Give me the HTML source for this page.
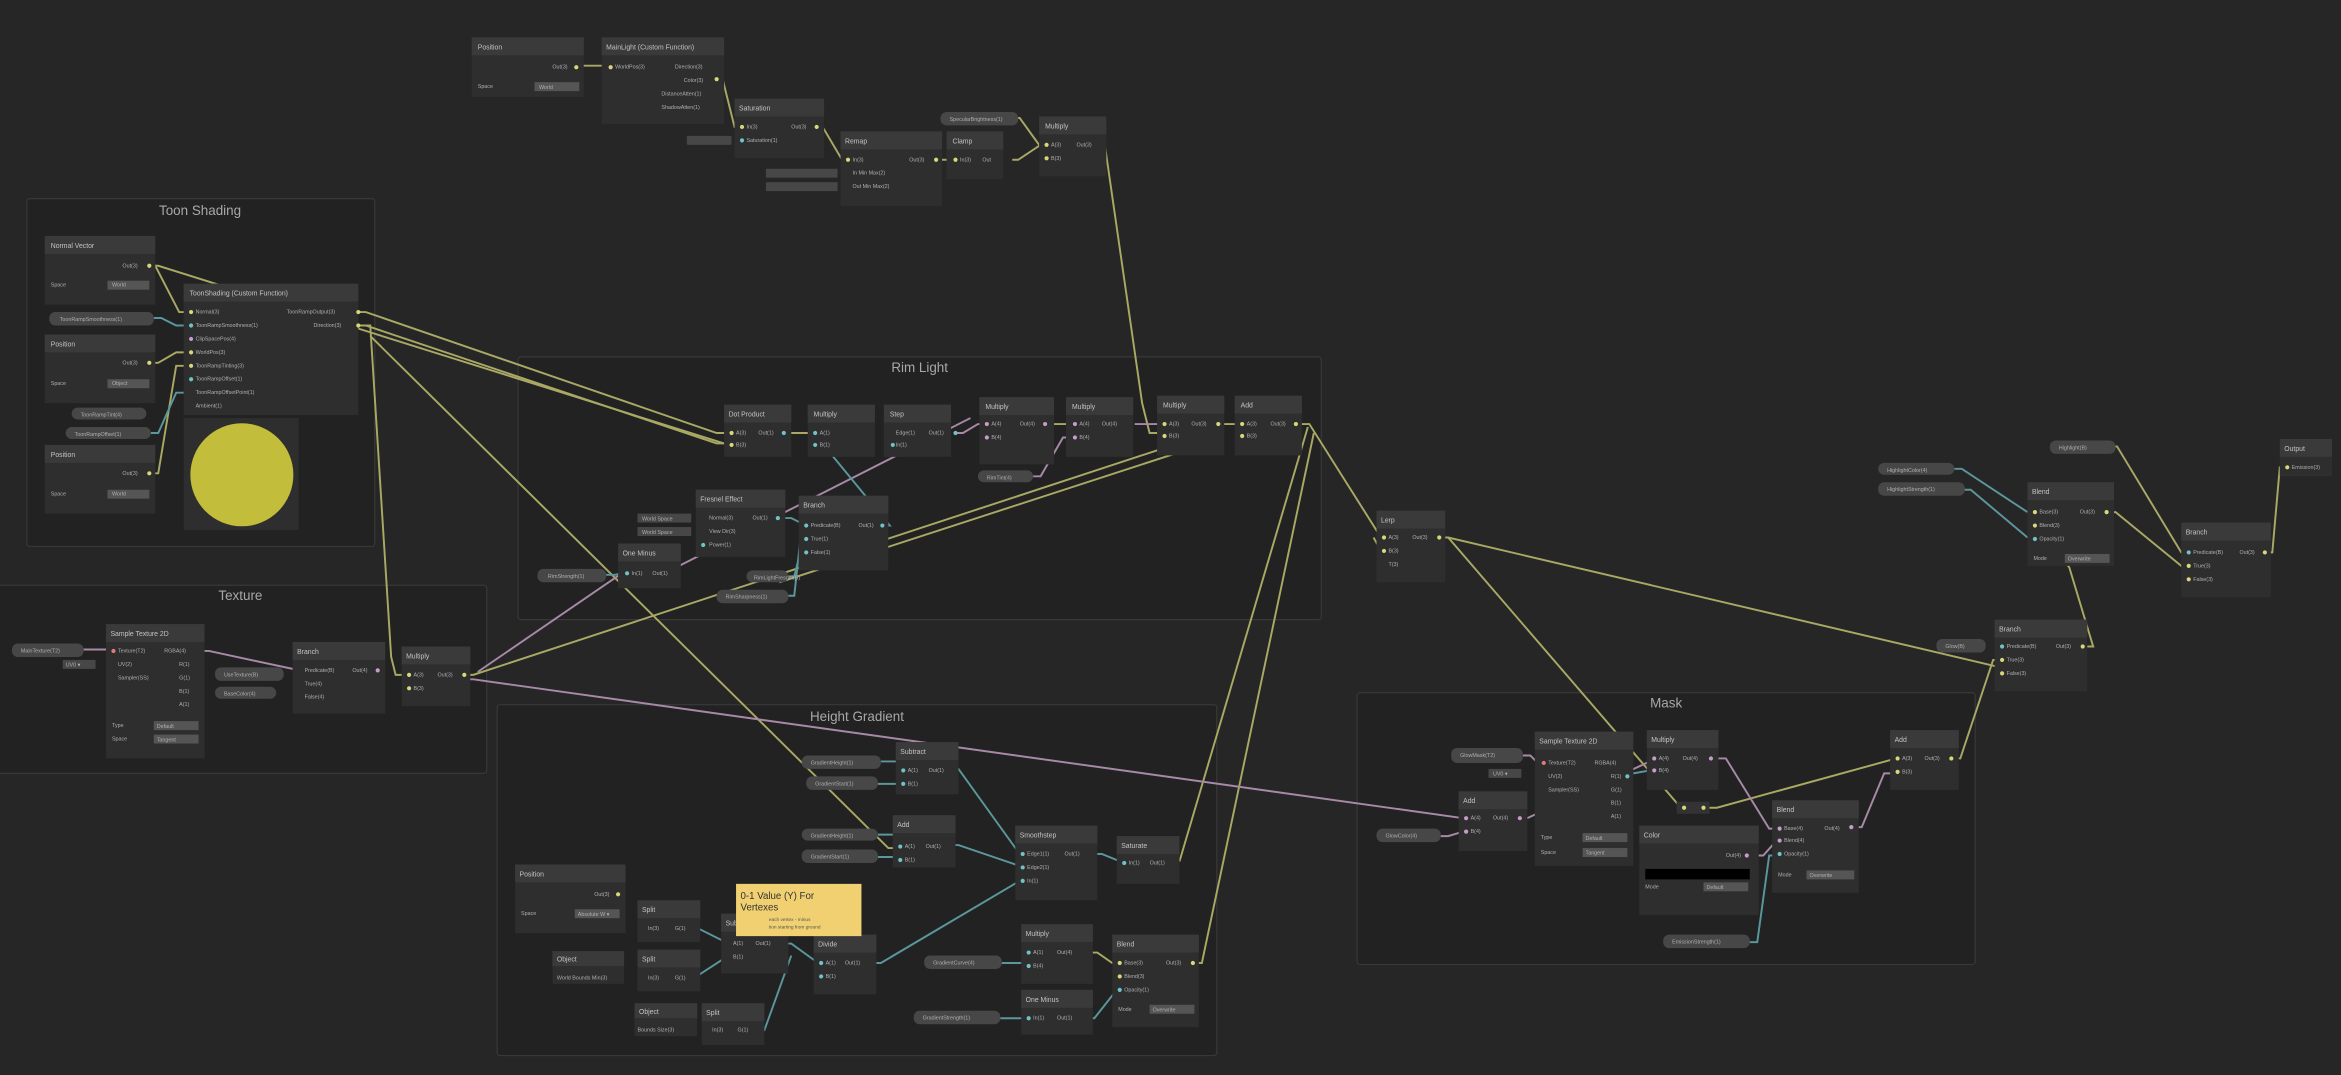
<!DOCTYPE html>
<html><head><meta charset="utf-8"><style>
html,body{margin:0;padding:0;background:#262626;overflow:hidden}
svg{display:block}
text{font-family:"Liberation Sans",sans-serif;fill:#c4c4c4}
.t{font-size:4.6px}
.p{font-size:3.6px;fill:#b0b0b0}
.g{font-size:9px;fill:#a8a8a8;text-anchor:middle}
.nb{fill:#2e2e2e}
.nh{fill:#3a3a3a}
.pill{fill:#474747}
.grp{fill:#222;stroke:#383838;stroke-width:0.8}
.wy{stroke:#a9a864;stroke-width:1.3;fill:none}
.wp{stroke:#a889a8;stroke-width:1.3;fill:none}
.wc{stroke:#5a979c;stroke-width:1.3;fill:none}
.y{fill:#d8d87a}.k{fill:#c99bc9}.c{fill:#6fc2c6}.r{fill:#e07a7a}
</style></head><body>
<svg width="2341" height="1075" viewBox="0 0 1568 720" xmlns="http://www.w3.org/2000/svg">
<rect width="1568" height="720" fill="#262626"/>
<!-- groups -->
<rect class="grp" x="18" y="133" width="233" height="233" rx="2"/><text class="g" x="134" y="144">Toon Shading</text>
<rect class="grp" x="347" y="239" width="538" height="176" rx="2"/><text class="g" x="616" y="249">Rim Light</text>
<rect class="grp" x="-2" y="392" width="328" height="126" rx="2"/><text class="g" x="161" y="402">Texture</text>
<rect class="grp" x="333" y="472" width="482" height="235" rx="2"/><text class="g" x="574" y="483">Height Gradient</text>
<rect class="grp" x="909" y="464" width="414" height="182" rx="2"/><text class="g" x="1116" y="474">Mask</text>

<!-- wires yellow -->
<g class="wy">
<path d="M385 44 H409"/>
<path d="M480 53 h4 L492 85 h4"/>
<path d="M547 85 h4 L564 107 h4"/>
<path d="M627 107 H640"/>
<path d="M678 107 h4 L697 97 h4"/>
<path d="M677 79 h6 L696 97 h5"/>
<path d="M736 97 h4 L765 270 L770 290 h10"/>
<path d="M100 178 h4 L120 209 h8"/>
<path d="M100 178 h6 L485 297"/>
<path d="M240 209 h5 L480 290 h5"/>
<path d="M240 218 h5 L480 297 h5"/>
<path d="M240 218 h8 L262 440 L265 452 h5"/>
<path d="M248 225 L595 568 h5"/>
<path d="M100 243 h6 L118 236 h10"/>
<path d="M100 317 h6 L118 245 h10"/>
<path d="M525 290 H546"/>
<path d="M700 284 H720"/>
<path d="M816 284 H832"/>
<path d="M871 284 h6 L925 360"/>
<path d="M876 286 L790 577"/>
<path d="M880 290 L805 645 h-5"/>
<path d="M312 452 h5 L780 300"/>
<path d="M965 360 h5 L1340 447"/>
<path d="M965 360 h5 L1125 540"/>
<path d="M1145 541 h5 L1270 508"/>
<path d="M1308 508 h5 L1335 442 h5"/>
<path d="M1398 433 h4 L1386 380 L1360 346 h3"/>
<path d="M1412 343 h5 L1461 379 h5"/>
<path d="M1413 299 h5 L1461 370 h5"/>
<path d="M1517 370 h5 L1527 313 h5"/>
<path d="M730 638 h5 L745 645 h5"/>
<path d="M522 390 L805 298"/>
<path d="M920 360 L925 369"/>
</g>
<!-- pink -->
<g class="wp">
<path d="M312 455 h5 L980 548"/>
<path d="M320 450 L415 385"/>
<path d="M135 436 h5 L196 448"/>
<path d="M640 290 h5 L655 284 h5"/>
<path d="M692 319 h5 L712 293 h6"/>
<path d="M760 284 H780"/>
<path d="M1151 508 h5 L1185 555 h5"/>
<path d="M1020 506 h5 L1030 511"/>
<path d="M965 560 h5 L980 557"/>
<path d="M1023 548 L1105 510"/>
<path d="M1242 554 h5 L1262 518 h6"/>
<path d="M1176 573 h5 L1190 563"/>
<path d="M445 384 L650 280"/>
<path d="M56 435 H75"/>
</g>
<!-- cyan -->
<g class="wc">
<path d="M103 213 h5 L118 218 h10"/>
<path d="M101 290 h5 L118 263 h10"/>
<path d="M525 347 h5 L540 352"/>
<path d="M592 352 h4 L550 296"/>
<path d="M406 385 h6 L420 383"/>
<path d="M528 386 h4 L536 370"/>
<path d="M528 399 h4 L536 362"/>
<path d="M637 515 h5 L683 572"/>
<path d="M637 566 h5 L683 580"/>
<path d="M733 572 h5 L753 578"/>
<path d="M463 622 h5 L488 632"/>
<path d="M460 655 h5 L488 640"/>
<path d="M507 690 h5 L530 640"/>
<path d="M525 632 h5 L548 645"/>
<path d="M585 645 h5 L683 590"/>
<path d="M1172 631 h5 L1185 573 h5"/>
<path d="M1315 328 h5 L1358 360"/>
<path d="M1309 314 h5 L1358 343"/>
<path d="M590 510 H605"/>
<path d="M588 525 H605"/>
<path d="M588 559 H602"/>
<path d="M588 574 H602"/>
<path d="M671 645 H688"/>
<path d="M670 682 H688"/>
<path d="M728 682 h5 L748 663"/>
<path d="M1094 518 L1105 516"/>
</g>

<!-- Position top -->
<g><rect class="nb" x="316" y="25" width="75" height="40"/><rect class="nh" x="316" y="25" width="75" height="12"/><text class="t" x="320" y="33">Position</text>
<text class="p" x="370" y="46">Out(3)</text><circle class="y" cx="386" cy="45" r="1.4"/>
<text class="p" x="320" y="59">Space</text><rect x="358" y="55" width="30" height="6" fill="#555"/><text class="p" x="361" y="59.5">World</text></g>
<g><rect class="nb" x="403" y="25" width="82" height="58"/><rect class="nh" x="403" y="25" width="82" height="12"/><text class="t" x="406" y="33">MainLight (Custom Function)</text>
<circle class="y" cx="409" cy="45" r="1.4"/><text class="p" x="412" y="46">WorldPos(3)</text>
<text class="p" x="452" y="46">Direction(3)</text><text class="p" x="458" y="55">Color(3)</text><text class="p" x="443" y="64">DistanceAtten(1)</text><text class="p" x="443" y="73">ShadowAtten(1)</text>
<circle class="y" cx="480" cy="53" r="1.4"/></g>
<g><rect class="nb" x="492" y="66" width="60" height="40"/><rect class="nh" x="492" y="66" width="60" height="12"/><text class="t" x="495" y="74">Saturation</text>
<circle class="y" cx="497" cy="85" r="1.4"/><text class="p" x="500" y="86">In(3)</text><circle class="c" cx="497" cy="94" r="1.4"/><text class="p" x="500" y="95">Saturation(1)</text><text class="p" x="530" y="86">Out(3)</text><circle class="y" cx="547" cy="85" r="1.4"/></g>
<rect class="pill" x="460" y="91" width="30" height="6" rx="1"/>
<g><rect class="nb" x="563" y="88" width="68" height="50"/><rect class="nh" x="563" y="88" width="68" height="12"/><text class="t" x="566" y="96">Remap</text>
<circle class="y" cx="568" cy="107" r="1.4"/><text class="p" x="571" y="108">In(3)</text><text class="p" x="571" y="117">In Min Max(2)</text><text class="p" x="571" y="126">Out Min Max(2)</text><text class="p" x="609" y="108">Out(3)</text><circle class="y" cx="627" cy="107" r="1.4"/></g>
<rect class="pill" x="513" y="113" width="48" height="6"/><rect class="pill" x="513" y="122" width="48" height="6"/>
<g><rect class="nb" x="634" y="88" width="38" height="32"/><rect class="nh" x="634" y="88" width="38" height="12"/><text class="t" x="638" y="96">Clamp</text><circle class="y" cx="640" cy="107" r="1.4"/><text class="p" x="643" y="108">In(3)</text><text class="p" x="658" y="108">Out</text></g>
<g><rect class="pill" x="630" y="75" width="52" height="9" rx="4"/><text class="p" x="636" y="81">SpecularBrightness(1)</text></g>
<g><rect class="nb" x="696" y="78" width="45" height="40"/><rect class="nh" x="696" y="78" width="45" height="12"/><text class="t" x="700" y="86">Multiply</text><circle class="y" cx="701" cy="97" r="1.4"/><text class="p" x="704" y="98">A(3)</text><circle class="y" cx="701" cy="106" r="1.4"/><text class="p" x="704" y="107">B(3)</text><text class="p" x="721" y="98">Out(3)</text></g>

<!-- Toon shading group -->
<g><rect class="nb" x="30" y="158" width="74" height="46"/><rect class="nh" x="30" y="158" width="74" height="12"/><text class="t" x="34" y="166">Normal Vector</text><text class="p" x="82" y="179">Out(3)</text><circle class="y" cx="100" cy="178" r="1.4"/><text class="p" x="34" y="192">Space</text><rect x="72" y="188" width="28" height="6" fill="#555"/><text class="p" x="75" y="192">World</text></g>
<g><rect class="nb" x="30" y="224" width="74" height="46"/><rect class="nh" x="30" y="224" width="74" height="12"/><text class="t" x="34" y="232">Position</text><text class="p" x="82" y="244">Out(3)</text><circle class="y" cx="100" cy="243" r="1.4"/><text class="p" x="34" y="258">Space</text><rect x="72" y="254" width="28" height="6" fill="#555"/><text class="p" x="75" y="258">Object</text></g>
<g><rect class="nb" x="30" y="298" width="74" height="46"/><rect class="nh" x="30" y="298" width="74" height="12"/><text class="t" x="34" y="306">Position</text><text class="p" x="82" y="318">Out(3)</text><circle class="y" cx="100" cy="317" r="1.4"/><text class="p" x="34" y="332">Space</text><rect x="72" y="328" width="28" height="6" fill="#555"/><text class="p" x="75" y="332">World</text></g>
<g><rect class="pill" x="33" y="209" width="70" height="9" rx="4"/><text class="p" x="40" y="215">ToonRampSmoothness(1)</text></g>
<g><rect class="pill" x="48" y="273" width="50" height="8" rx="4"/><text class="p" x="54" y="279">ToonRampTint(4)</text></g>
<g><rect class="pill" x="44" y="286" width="57" height="8" rx="4"/><text class="p" x="50" y="292">ToonRampOffset(1)</text></g>
<g><rect class="nb" x="123" y="190" width="117" height="88"/><rect class="nh" x="123" y="190" width="117" height="12"/><text class="t" x="127" y="198">ToonShading (Custom Function)</text>
<circle class="y" cx="128" cy="209" r="1.4"/><text class="p" x="131" y="210">Normal(3)</text>
<circle class="c" cx="128" cy="218" r="1.4"/><text class="p" x="131" y="219">ToonRampSmoothness(1)</text>
<circle class="k" cx="128" cy="227" r="1.4"/><text class="p" x="131" y="228">ClipSpacePos(4)</text>
<circle class="y" cx="128" cy="236" r="1.4"/><text class="p" x="131" y="237">WorldPos(3)</text>
<circle class="y" cx="128" cy="245" r="1.4"/><text class="p" x="131" y="246">ToonRampTinting(3)</text>
<circle class="c" cx="128" cy="254" r="1.4"/><text class="p" x="131" y="255">ToonRampOffset(1)</text>
<text class="p" x="131" y="264">ToonRampOffsetPoint(1)</text><text class="p" x="131" y="273">Ambient(1)</text>
<text class="p" x="192" y="210">ToonRampOutput(3)</text><circle class="y" cx="240" cy="209" r="1.4"/><text class="p" x="210" y="219">Direction(3)</text><circle class="y" cx="240" cy="218" r="1.4"/></g>
<rect x="123" y="280" width="77" height="75" fill="#2e2e2e"/><circle cx="162" cy="318" r="34.5" fill="#c2bd3a"/>

<!-- Rim light -->
<g><rect class="nb" x="485" y="271" width="45" height="35"/><rect class="nh" x="485" y="271" width="45" height="12"/><text class="t" x="488" y="279">Dot Product</text><circle class="y" cx="490" cy="290" r="1.4"/><text class="p" x="493" y="291">A(3)</text><circle class="y" cx="490" cy="298" r="1.4"/><text class="p" x="493" y="299">B(3)</text><text class="p" x="508" y="291">Out(1)</text><circle class="c" cx="525" cy="290" r="1.4"/></g>
<g><rect class="nb" x="541" y="271" width="45" height="35"/><rect class="nh" x="541" y="271" width="45" height="12"/><text class="t" x="545" y="279">Multiply</text><circle class="c" cx="546" cy="290" r="1.4"/><text class="p" x="549" y="291">A(1)</text><circle class="c" cx="546" cy="298" r="1.4"/><text class="p" x="549" y="299">B(1)</text></g>
<g><rect class="nb" x="592" y="271" width="45" height="35"/><rect class="nh" x="592" y="271" width="45" height="12"/><text class="t" x="596" y="279">Step</text><text class="p" x="600" y="291">Edge(1)</text><circle class="c" cx="598" cy="298" r="1.4"/><text class="p" x="600" y="299">In(1)</text><text class="p" x="622" y="291">Out(1)</text><circle class="c" cx="640" cy="290" r="1.4"/></g>
<g><rect class="nb" x="656" y="266" width="50" height="45"/><rect class="nh" x="656" y="266" width="50" height="12"/><text class="t" x="660" y="274">Multiply</text><circle class="k" cx="661" cy="284" r="1.4"/><text class="p" x="664" y="285">A(4)</text><circle class="k" cx="661" cy="293" r="1.4"/><text class="p" x="664" y="294">B(4)</text><text class="p" x="683" y="285">Out(4)</text><circle class="k" cx="700" cy="284" r="1.4"/></g>
<g><rect class="nb" x="714" y="266" width="45" height="40"/><rect class="nh" x="714" y="266" width="45" height="12"/><text class="t" x="718" y="274">Multiply</text><circle class="k" cx="720" cy="284" r="1.4"/><text class="p" x="723" y="285">A(4)</text><circle class="k" cx="720" cy="293" r="1.4"/><text class="p" x="723" y="294">B(4)</text><text class="p" x="738" y="285">Out(4)</text></g>
<g><rect class="nb" x="775" y="265" width="45" height="40"/><rect class="nh" x="775" y="265" width="45" height="12"/><text class="t" x="779" y="273">Multiply</text><circle class="y" cx="780" cy="284" r="1.4"/><text class="p" x="783" y="285">A(3)</text><circle class="y" cx="780" cy="292" r="1.4"/><text class="p" x="783" y="293">B(3)</text><text class="p" x="798" y="285">Out(3)</text><circle class="y" cx="816" cy="284" r="1.4"/></g>
<g><rect class="nb" x="827" y="265" width="45" height="40"/><rect class="nh" x="827" y="265" width="45" height="12"/><text class="t" x="831" y="273">Add</text><circle class="y" cx="832" cy="284" r="1.4"/><text class="p" x="835" y="285">A(3)</text><circle class="y" cx="832" cy="292" r="1.4"/><text class="p" x="835" y="293">B(3)</text><text class="p" x="851" y="285">Out(3)</text><circle class="y" cx="868" cy="284" r="1.4"/></g>
<g><rect class="pill" x="655" y="315" width="37" height="8" rx="4"/><text class="p" x="661" y="321">RimTint(4)</text></g>
<g><rect class="nb" x="466" y="328" width="60" height="45"/><rect class="nh" x="466" y="328" width="60" height="12"/><text class="t" x="469" y="336">Fresnel Effect</text><text class="p" x="475" y="348">Normal(3)</text><text class="p" x="475" y="357">View Dir(3)</text><circle class="c" cx="471" cy="365" r="1.4"/><text class="p" x="475" y="366">Power(1)</text><text class="p" x="504" y="348">Out(1)</text><circle class="c" cx="521" cy="347" r="1.4"/></g>
<rect class="pill" x="427" y="344" width="36" height="6"/><text class="p" x="430" y="348.5">World Space</text><rect class="pill" x="427" y="353" width="36" height="6"/><text class="p" x="430" y="357.5">World Space</text>
<g><rect class="nb" x="535" y="332" width="60" height="50"/><rect class="nh" x="535" y="332" width="60" height="12"/><text class="t" x="538" y="340">Branch</text><circle class="c" cx="540" cy="352" r="1.4"/><text class="p" x="543" y="353">Predicate(B)</text><circle class="c" cx="540" cy="361" r="1.4"/><text class="p" x="543" y="362">True(1)</text><circle class="c" cx="540" cy="370" r="1.4"/><text class="p" x="543" y="371">False(1)</text><text class="p" x="575" y="353">Out(1)</text><circle class="c" cx="591" cy="352" r="1.4"/></g>
<g><rect class="nb" x="414" y="364" width="42" height="30"/><rect class="nh" x="414" y="364" width="42" height="12"/><text class="t" x="417" y="372">One Minus</text><circle class="c" cx="420" cy="384" r="1.4"/><text class="p" x="423" y="385">In(1)</text><text class="p" x="437" y="385">Out(1)</text></g>
<g><rect class="pill" x="360" y="381" width="46" height="9" rx="4"/><text class="p" x="367" y="387">RimStrength(1)</text></g>
<g><rect class="pill" x="500" y="382" width="28" height="8" rx="4"/><text class="p" x="505" y="388">RimLightFresnel(B)</text></g>
<g><rect class="pill" x="480" y="395" width="48" height="9" rx="4"/><text class="p" x="486" y="401">RimSharpness(1)</text></g>

<!-- Texture -->
<g><rect class="pill" x="8" y="431" width="48" height="9" rx="4"/><text class="p" x="14" y="437">MainTexture(T2)</text></g>
<rect class="pill" x="42" y="442" width="22" height="6"/><text class="p" x="44" y="446.5">UV0 ▾</text>
<g><rect class="nb" x="71" y="418" width="66" height="90"/><rect class="nh" x="71" y="418" width="66" height="12"/><text class="t" x="74" y="426">Sample Texture 2D</text><circle class="r" cx="76" cy="436" r="1.4"/><text class="p" x="79" y="437">Texture(T2)</text><text class="p" x="79" y="446">UV(2)</text><text class="p" x="79" y="455">Sampler(SS)</text>
<text class="p" x="110" y="437">RGBA(4)</text><text class="p" x="120" y="446">R(1)</text><text class="p" x="120" y="455">G(1)</text><text class="p" x="120" y="464">B(1)</text><text class="p" x="120" y="473">A(1)</text>
<text class="p" x="75" y="487">Type</text><rect x="103" y="483" width="30" height="6" fill="#555"/><text class="p" x="105" y="487.5">Default</text><text class="p" x="75" y="496">Space</text><rect x="103" y="492" width="30" height="6" fill="#555"/><text class="p" x="105" y="496.5">Tangent</text></g>
<g><rect class="pill" x="144" y="447" width="46" height="9" rx="4"/><text class="p" x="150" y="453">UseTexture(B)</text></g>
<g><rect class="pill" x="144" y="460" width="41" height="8" rx="4"/><text class="p" x="150" y="466">BaseColor(4)</text></g>
<g><rect class="nb" x="196" y="430" width="62" height="48"/><rect class="nh" x="196" y="430" width="62" height="12"/><text class="t" x="199" y="438">Branch</text><text class="p" x="204" y="450">Predicate(B)</text><text class="p" x="204" y="459">True(4)</text><text class="p" x="204" y="468">False(4)</text><text class="p" x="236" y="450">Out(4)</text><circle class="k" cx="253" cy="449" r="1.4"/></g>
<g><rect class="nb" x="269" y="433" width="46" height="40"/><rect class="nh" x="269" y="433" width="46" height="12"/><text class="t" x="272" y="441">Multiply</text><circle class="y" cx="274" cy="452" r="1.4"/><text class="p" x="277" y="453">A(3)</text><circle class="y" cx="274" cy="461" r="1.4"/><text class="p" x="277" y="462">B(3)</text><text class="p" x="293" y="453">Out(3)</text><circle class="y" cx="311" cy="452" r="1.4"/></g>

<!-- Right side -->
<g><rect class="nb" x="922" y="342" width="46" height="48"/><rect class="nh" x="922" y="342" width="46" height="12"/><text class="t" x="925" y="350">Lerp</text><circle class="y" cx="927" cy="360" r="1.4"/><text class="p" x="930" y="361">A(3)</text><circle class="y" cx="927" cy="369" r="1.4"/><text class="p" x="930" y="370">B(3)</text><text class="p" x="930" y="379">T(3)</text><text class="p" x="946" y="361">Out(3)</text><circle class="y" cx="964" cy="360" r="1.4"/></g>
<g><rect class="pill" x="1258" y="310" width="51" height="8" rx="4"/><text class="p" x="1264" y="316">HighlightColor(4)</text></g>
<g><rect class="pill" x="1258" y="323" width="58" height="9" rx="4"/><text class="p" x="1264" y="329">HighlightStrength(1)</text></g>
<g><rect class="pill" x="1373" y="295" width="44" height="9" rx="4"/><text class="p" x="1379" y="301">Highlight(B)</text></g>
<g><rect class="nb" x="1358" y="323" width="58" height="56"/><rect class="nh" x="1358" y="323" width="58" height="12"/><text class="t" x="1361" y="331">Blend</text><circle class="y" cx="1363" cy="343" r="1.4"/><text class="p" x="1366" y="344">Base(3)</text><circle class="y" cx="1363" cy="352" r="1.4"/><text class="p" x="1366" y="353">Blend(3)</text><circle class="c" cx="1363" cy="361" r="1.4"/><text class="p" x="1366" y="362">Opacity(1)</text><text class="p" x="1393" y="344">Out(3)</text><circle class="y" cx="1411" cy="343" r="1.4"/><text class="p" x="1362" y="375">Mode</text><rect x="1383" y="371" width="30" height="6" fill="#555"/><text class="p" x="1385" y="375.5">Overwrite</text></g>
<g><rect class="nb" x="1461" y="350" width="60" height="50"/><rect class="nh" x="1461" y="350" width="60" height="12"/><text class="t" x="1464" y="358">Branch</text><circle class="c" cx="1466" cy="370" r="1.4"/><text class="p" x="1469" y="371">Predicate(B)</text><circle class="y" cx="1466" cy="379" r="1.4"/><text class="p" x="1469" y="380">True(3)</text><circle class="y" cx="1466" cy="388" r="1.4"/><text class="p" x="1469" y="389">False(3)</text><text class="p" x="1500" y="371">Out(3)</text><circle class="y" cx="1517" cy="370" r="1.4"/></g>
<g><rect class="nb" x="1527" y="294" width="35" height="25"/><rect class="nh" x="1527" y="294" width="35" height="12"/><text class="t" x="1530" y="302">Output</text><circle class="y" cx="1532" cy="313" r="1.4"/><text class="p" x="1535" y="314">Emission(3)</text></g>
<g><rect class="nb" x="1336" y="415" width="62" height="48"/><rect class="nh" x="1336" y="415" width="62" height="12"/><text class="t" x="1339" y="423">Branch</text><circle class="c" cx="1341" cy="433" r="1.4"/><text class="p" x="1344" y="434">Predicate(B)</text><circle class="y" cx="1341" cy="442" r="1.4"/><text class="p" x="1344" y="443">True(3)</text><circle class="y" cx="1341" cy="451" r="1.4"/><text class="p" x="1344" y="452">False(3)</text><text class="p" x="1377" y="434">Out(3)</text><circle class="y" cx="1395" cy="433" r="1.4"/></g>
<g><rect class="pill" x="1297" y="428" width="33" height="9" rx="4"/><text class="p" x="1303" y="434">Glow(B)</text></g>

<!-- Mask -->
<g><rect class="pill" x="972" y="501" width="48" height="10" rx="4"/><text class="p" x="978" y="507">GlowMask(T2)</text></g>
<rect class="pill" x="997" y="515" width="22" height="6"/><text class="p" x="1000" y="519.5">UV0 ▾</text>
<g><rect class="nb" x="1028" y="490" width="66" height="90"/><rect class="nh" x="1028" y="490" width="66" height="12"/><text class="t" x="1031" y="498">Sample Texture 2D</text><circle class="r" cx="1034" cy="511" r="1.4"/><text class="p" x="1037" y="512">Texture(T2)</text><text class="p" x="1037" y="521">UV(2)</text><text class="p" x="1037" y="530">Sampler(SS)</text><text class="p" x="1068" y="512">RGBA(4)</text><text class="p" x="1079" y="521">R(1)</text><circle class="c" cx="1090" cy="520" r="1.4"/><text class="p" x="1079" y="530">G(1)</text><text class="p" x="1079" y="539">B(1)</text><text class="p" x="1079" y="548">A(1)</text>
<text class="p" x="1032" y="562">Type</text><rect x="1060" y="558" width="30" height="6" fill="#555"/><text class="p" x="1062" y="562.5">Default</text><text class="p" x="1032" y="572">Space</text><rect x="1060" y="568" width="30" height="6" fill="#555"/><text class="p" x="1062" y="572.5">Tangent</text></g>
<g><rect class="nb" x="1103" y="489" width="48" height="40"/><rect class="nh" x="1103" y="489" width="48" height="12"/><text class="t" x="1106" y="497">Multiply</text><circle class="k" cx="1108" cy="508" r="1.4"/><text class="p" x="1111" y="509">A(4)</text><circle class="k" cx="1108" cy="516" r="1.4"/><text class="p" x="1111" y="517">B(4)</text><text class="p" x="1127" y="509">Out(4)</text><circle class="k" cx="1146" cy="508" r="1.4"/></g>
<g><rect class="nb" x="977" y="530" width="46" height="40"/><rect class="nh" x="977" y="530" width="46" height="12"/><text class="t" x="980" y="538">Add</text><circle class="k" cx="982" cy="548" r="1.4"/><text class="p" x="985" y="549">A(4)</text><circle class="k" cx="982" cy="557" r="1.4"/><text class="p" x="985" y="558">B(4)</text><text class="p" x="1000" y="549">Out(4)</text><circle class="k" cx="1018" cy="548" r="1.4"/></g>
<g><rect class="pill" x="922" y="555" width="43" height="9" rx="4"/><text class="p" x="928" y="561">GlowColor(4)</text></g>
<rect x="1123" y="537" width="22" height="8" fill="#333"/><circle class="y" cx="1128" cy="541" r="1.4"/><circle class="y" cx="1141" cy="541" r="1.4"/>
<g><rect class="nb" x="1098" y="553" width="80" height="60"/><rect class="nh" x="1098" y="553" width="80" height="12"/><text class="t" x="1101" y="561">Color</text><text class="p" x="1156" y="574">Out(4)</text><circle class="k" cx="1170" cy="573" r="1.4"/><rect x="1102" y="582" width="70" height="7" fill="#000"/><text class="p" x="1102" y="595">Mode</text><rect x="1141" y="591" width="30" height="6" fill="#555"/><text class="p" x="1143" y="595.5">Default</text></g>
<g><rect class="nb" x="1187" y="536" width="58" height="62"/><rect class="nh" x="1187" y="536" width="58" height="12"/><text class="t" x="1190" y="544">Blend</text><circle class="k" cx="1192" cy="555" r="1.4"/><text class="p" x="1195" y="556">Base(4)</text><circle class="k" cx="1192" cy="563" r="1.4"/><text class="p" x="1195" y="564">Blend(4)</text><circle class="c" cx="1192" cy="572" r="1.4"/><text class="p" x="1195" y="573">Opacity(1)</text><text class="p" x="1222" y="556">Out(4)</text><circle class="k" cx="1240" cy="554" r="1.4"/><text class="p" x="1191" y="587">Mode</text><rect x="1210" y="583" width="32" height="6" fill="#555"/><text class="p" x="1212" y="587.5">Overwrite</text></g>
<g><rect class="nb" x="1266" y="489" width="46" height="40"/><rect class="nh" x="1266" y="489" width="46" height="12"/><text class="t" x="1269" y="497">Add</text><circle class="y" cx="1271" cy="508" r="1.4"/><text class="p" x="1274" y="509">A(3)</text><circle class="y" cx="1271" cy="517" r="1.4"/><text class="p" x="1274" y="518">B(3)</text><text class="p" x="1289" y="509">Out(3)</text><circle class="y" cx="1307" cy="508" r="1.4"/></g>
<g><rect class="pill" x="1114" y="626" width="58" height="9" rx="4"/><text class="p" x="1120" y="632">EmissionStrength(1)</text></g>

<!-- Height gradient -->
<g><rect class="pill" x="537" y="506" width="53" height="9" rx="4"/><text class="p" x="543" y="512">GradientHeight(1)</text></g>
<g><rect class="pill" x="540" y="520" width="48" height="9" rx="4"/><text class="p" x="546" y="526">GradientStart(1)</text></g>
<g><rect class="nb" x="600" y="497" width="42" height="35"/><rect class="nh" x="600" y="497" width="42" height="12"/><text class="t" x="603" y="505">Subtract</text><circle class="c" cx="605" cy="516" r="1.4"/><text class="p" x="608" y="517">A(1)</text><circle class="c" cx="605" cy="525" r="1.4"/><text class="p" x="608" y="526">B(1)</text><text class="p" x="622" y="517">Out(1)</text></g>
<g><rect class="pill" x="537" y="555" width="51" height="8" rx="4"/><text class="p" x="543" y="561">GradientHeight(1)</text></g>
<g><rect class="pill" x="537" y="569" width="51" height="9" rx="4"/><text class="p" x="543" y="575">GradientStart(1)</text></g>
<g><rect class="nb" x="598" y="546" width="42" height="35"/><rect class="nh" x="598" y="546" width="42" height="12"/><text class="t" x="601" y="554">Add</text><circle class="c" cx="603" cy="567" r="1.4"/><text class="p" x="606" y="568">A(1)</text><circle class="c" cx="603" cy="576" r="1.4"/><text class="p" x="606" y="577">B(1)</text><text class="p" x="620" y="568">Out(1)</text></g>
<g><rect class="nb" x="680" y="553" width="55" height="50"/><rect class="nh" x="680" y="553" width="55" height="12"/><text class="t" x="683" y="561">Smoothstep</text><circle class="c" cx="685" cy="572" r="1.4"/><text class="p" x="688" y="573">Edge1(1)</text><circle class="c" cx="685" cy="581" r="1.4"/><text class="p" x="688" y="582">Edge2(1)</text><circle class="c" cx="685" cy="590" r="1.4"/><text class="p" x="688" y="591">In(1)</text><text class="p" x="713" y="573">Out(1)</text></g>
<g><rect class="nb" x="748" y="560" width="42" height="32"/><rect class="nh" x="748" y="560" width="42" height="12"/><text class="t" x="751" y="568">Saturate</text><circle class="c" cx="753" cy="578" r="1.4"/><text class="p" x="756" y="579">In(1)</text><text class="p" x="770" y="579">Out(1)</text></g>
<g><rect class="nb" x="345" y="579" width="74" height="46"/><rect class="nh" x="345" y="579" width="74" height="12"/><text class="t" x="348" y="587">Position</text><text class="p" x="398" y="600">Out(3)</text><circle class="y" cx="414" cy="599" r="1.4"/><text class="p" x="349" y="613">Space</text><rect x="385" y="609" width="30" height="6" fill="#555"/><text class="p" x="387" y="613.5">Absolute W ▾</text></g>
<g><rect class="nb" x="427" y="603" width="42" height="28"/><rect class="nh" x="427" y="603" width="42" height="12"/><text class="t" x="430" y="611">Split</text><text class="p" x="434" y="623">In(3)</text><text class="p" x="452" y="623">G(1)</text></g>
<g><rect class="nb" x="370" y="637" width="48" height="22"/><rect class="nh" x="370" y="637" width="48" height="10"/><text class="t" x="373" y="644">Object</text><text class="p" x="373" y="656">World Bounds Min(3)</text></g>
<g><rect class="nb" x="427" y="636" width="42" height="28"/><rect class="nh" x="427" y="636" width="42" height="12"/><text class="t" x="430" y="644">Split</text><text class="p" x="434" y="656">In(3)</text><text class="p" x="452" y="656">G(1)</text></g>
<g><rect class="nb" x="425" y="672" width="42" height="22"/><rect class="nh" x="425" y="672" width="42" height="10"/><text class="t" x="428" y="679">Object</text><text class="p" x="427" y="691">Bounds Size(3)</text></g>
<g><rect class="nb" x="470" y="672" width="42" height="28"/><rect class="nh" x="470" y="672" width="42" height="12"/><text class="t" x="473" y="680">Split</text><text class="p" x="477" y="691">In(3)</text><text class="p" x="494" y="691">G(1)</text></g>
<g><rect class="nb" x="483" y="612" width="45" height="40"/><rect class="nh" x="483" y="612" width="45" height="12"/><text class="t" x="486" y="620">Subtract</text><text class="p" x="491" y="633">A(1)</text><text class="p" x="491" y="642">B(1)</text><text class="p" x="506" y="633">Out(1)</text></g>
<g><rect class="nb" x="545" y="626" width="42" height="40"/><rect class="nh" x="545" y="626" width="42" height="12"/><text class="t" x="548" y="634">Divide</text><circle class="c" cx="550" cy="645" r="1.4"/><text class="p" x="553" y="646">A(1)</text><circle class="c" cx="550" cy="654" r="1.4"/><text class="p" x="553" y="655">B(1)</text><text class="p" x="566" y="646">Out(1)</text></g>
<g><rect x="493" y="592" width="84" height="35" fill="#f0d070"/><text x="496" y="602" style="font-size:6.5px;fill:#333">0-1 Value (Y) For</text><text x="496" y="610" style="font-size:6.5px;fill:#333">Vertexes</text><text x="515" y="617" style="font-size:3.2px;fill:#555">each vertex - minus</text><text x="515" y="622" style="font-size:3.2px;fill:#555">tion starting from ground</text></g>
<g><rect class="pill" x="619" y="640" width="52" height="9" rx="4"/><text class="p" x="625" y="646">GradientCurve(4)</text></g>
<g><rect class="pill" x="612" y="677" width="58" height="9" rx="4"/><text class="p" x="618" y="683">GradientStrength(1)</text></g>
<g><rect class="nb" x="684" y="619" width="48" height="40"/><rect class="nh" x="684" y="619" width="48" height="12"/><text class="t" x="687" y="627">Multiply</text><circle class="c" cx="689" cy="638" r="1.4"/><text class="p" x="692" y="639">A(1)</text><circle class="c" cx="689" cy="647" r="1.4"/><text class="p" x="692" y="648">B(4)</text><text class="p" x="708" y="639">Out(4)</text></g>
<g><rect class="nb" x="684" y="663" width="48" height="30"/><rect class="nh" x="684" y="663" width="48" height="12"/><text class="t" x="687" y="671">One Minus</text><circle class="c" cx="689" cy="682" r="1.4"/><text class="p" x="692" y="683">In(1)</text><text class="p" x="708" y="683">Out(1)</text></g>
<g><rect class="nb" x="745" y="626" width="58" height="62"/><rect class="nh" x="745" y="626" width="58" height="12"/><text class="t" x="748" y="634">Blend</text><circle class="y" cx="750" cy="645" r="1.4"/><text class="p" x="753" y="646">Base(3)</text><circle class="y" cx="750" cy="654" r="1.4"/><text class="p" x="753" y="655">Blend(3)</text><circle class="c" cx="750" cy="663" r="1.4"/><text class="p" x="753" y="664">Opacity(1)</text><text class="p" x="781" y="646">Out(3)</text><circle class="y" cx="799" cy="645" r="1.4"/><text class="p" x="749" y="677">Mode</text><rect x="770" y="673" width="30" height="6" fill="#555"/><text class="p" x="772" y="677.5">Overwrite</text></g>
</svg>
</body></html>
